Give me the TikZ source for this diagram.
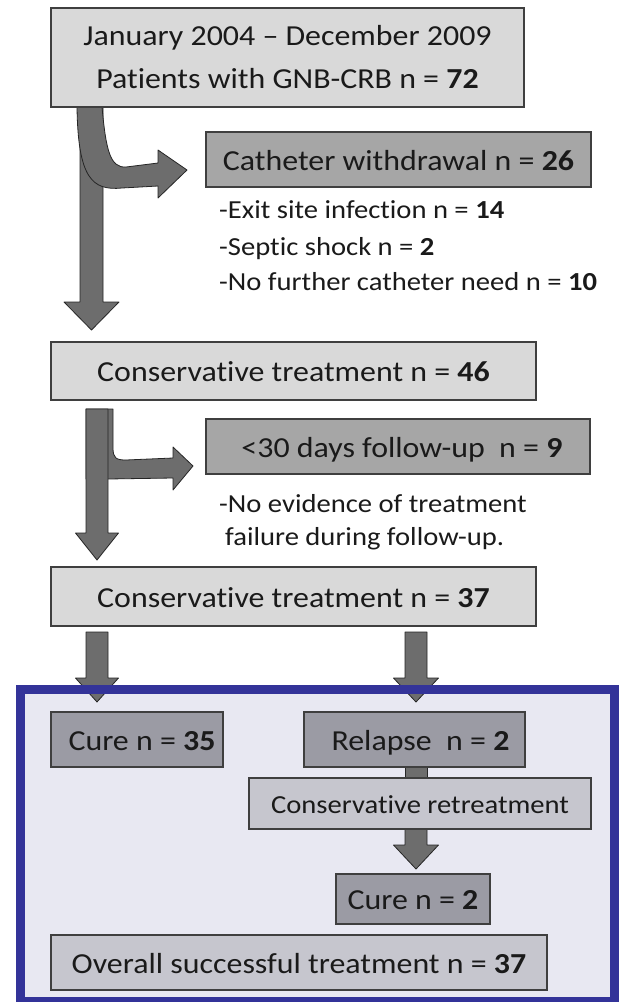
\documentclass[tikz,border=0pt]{standalone}
\usepackage{fontspec}
\setmainfont[FakeStretch=1.1, Ligatures=NoCommon]{Carlito}
\usetikzlibrary{calc}
\definecolor{lboxc}{HTML}{D9D9D9}
\definecolor{mboxc}{HTML}{A6A6A6}
\definecolor{dboxc}{HTML}{9B9BA4}
\definecolor{pboxc}{HTML}{C6C6CE}
\definecolor{bordc}{HTML}{3F3F3F}
\definecolor{arrc}{HTML}{6D6D6D}
\definecolor{arrd}{HTML}{262626}
\definecolor{framec}{HTML}{333399}
\definecolor{lavc}{HTML}{E8E8F2}
\definecolor{txtc}{HTML}{1A1A1A}
\newcommand\blkarrow[6]{%
  \filldraw[arrowsty] (#1-#5,#2) -- (#1+#5,#2) -- (#1+#5,#3) -- (#1+#6,#3) -- (#1,#4) -- (#1-#6,#3) -- (#1-#5,#3) -- cycle;}
\begin{document}
\begin{tikzpicture}[x=1pt,y=-1pt,
  boxsty/.style={draw=bordc, line width=1.2pt, inner sep=0pt, text=txtc,
     font=\fontsize{29}{35}\selectfont, text height=21pt, text depth=0pt},
  lbox/.style={boxsty, fill=lboxc},
  mbox/.style={boxsty, fill=mboxc},
  dbox/.style={boxsty, fill=dboxc},
  pbox/.style={boxsty, fill=pboxc},
  note/.style={anchor=base west, inner sep=0pt, text=txtc, font=\fontsize{26}{30}\selectfont},
  arrowsty/.style={fill=arrc, draw=arrd, line width=0.8pt, line join=round}]
\useasboundingbox (0,0) rectangle (621,1002);
\fill[white] (0,0) rectangle (621,1002);
% lower frame background
\fill[lavc] (20.5,689) rectangle (614.5,1001);

% arrows
\blkarrow{91.5}{106}{302}{330}{11.5}{27.5}
\filldraw[arrowsty] (77,107) .. controls (78,178) and (92,191) .. (122,188)
   -- (158,186) -- (158,198) -- (187,170) -- (158,150) -- (158,163)
   -- (126,167) .. controls (110,168) and (106,150) .. (102,107) -- cycle;
\filldraw[arrowsty] (86,409) -- (113,409) -- (113,448)
   .. controls (113,458) and (116,460) .. (126,460) -- (173,458) -- (173,447)
   -- (193,466) -- (173,490) -- (173,478) -- (108,479) -- (86,479) -- cycle;
\blkarrow{97}{409}{533}{560}{11}{21.5}
\blkarrow{97}{632}{678}{702}{11}{21.5}
\blkarrow{416}{632}{678}{702}{11}{22.5}
\filldraw[arrowsty] (405,766) rectangle (427,779);
\blkarrow{416}{829}{845}{869}{11}{22.5}

% boxes
\node[lbox, minimum width=473pt, minimum height=99pt, align=center, text height=, text depth=,
      font=\fontsize{29}{43}\selectfont] (top) at (287.5,57.5)
  {January 2004 -- December 2009\\Patients with GNB-CRB n = \textbf{72}};
\node[mbox, minimum width=385pt, minimum height=55pt] (cath) at (398.5,159.5)
  {Catheter withdrawal n = \textbf{26}};
\node[note] (exit) at (219,218) {-Exit site infection n = \textbf{14}};
\node[note] (septic) at (219,255) {-Septic shock n = \textbf{2}};
\node[note] (nofur) at (219,290) {-No further catheter need n = \textbf{10}};
\node[lbox, minimum width=485pt, minimum height=58pt] (cons46) at (293.5,371)
  {Conservative treatment n = \textbf{46}};
\node[mbox, minimum width=384pt, minimum height=55pt] (fu) at (398,446.5)
  {\hspace{8pt}<30 days follow-up \ n = \textbf{9}};
\node[note] (noev) at (219,512) {-No evidence of treatment};
\node[note] (fail) at (225,545) {failure during follow-up.};
\node[lbox, minimum width=485pt, minimum height=59pt] (cons37) at (293.5,596.5)
  {Conservative treatment n = \textbf{37}};
\node[dbox, minimum width=172pt, minimum height=55pt] (cure35) at (137,739.5)
  {\hspace{10pt}Cure n = \textbf{35}};
\node[dbox, minimum width=221pt, minimum height=55pt] (relapse) at (414.5,739.5)
  {\hspace{12pt}Relapse \ n = \textbf{2}};
\node[pbox, minimum width=342pt, minimum height=51pt, font=\fontsize{26}{30}\selectfont, text height=19pt] (retreat) at (420,803.5)
  {Conservative retreatment};
\node[dbox, minimum width=154pt, minimum height=50pt] (cure2) at (413,899)
  {Cure n = \textbf{2}};
\node[pbox, minimum width=496pt, minimum height=55pt] (overall) at (299,962.5)
  {Overall successful treatment n = \textbf{37}};

% frame border
\draw[framec, line width=9pt] (20.5,689) rectangle (614.5,1001);
\end{tikzpicture}
\end{document}
